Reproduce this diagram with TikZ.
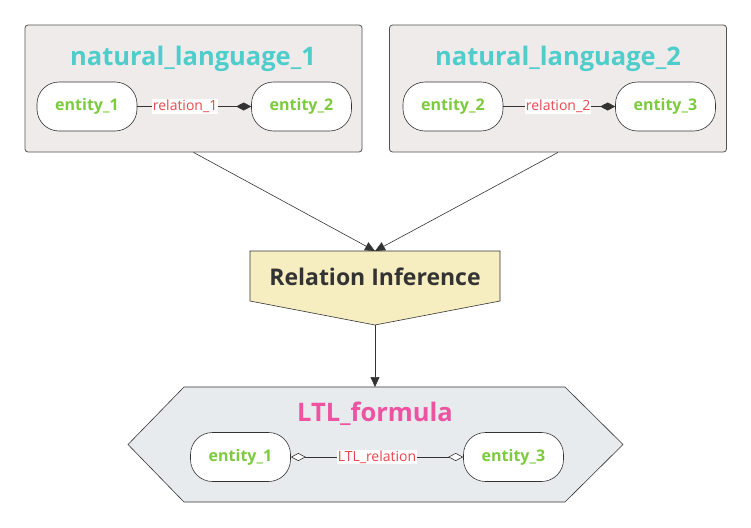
\documentclass[tikz,border=0pt]{standalone}
\usepackage{fontspec}
\setmainfont{Open Sans}
\usepackage{xcolor}
\usetikzlibrary{shapes, positioning, arrows.meta}

\definecolor{lineGrey}{HTML}{333333}
\definecolor{boxFill}{HTML}{EFEBEB}
\definecolor{hexFill}{HTML}{E8EBEE}
\definecolor{inferFill}{HTML}{F6EDC0}
\definecolor{titleTeal}{HTML}{4ECDCB}
\definecolor{titlePink}{HTML}{EC53A0}
\definecolor{entityGreen}{HTML}{7CCB3E}
\definecolor{relRed}{HTML}{E5484D}

\tikzset{
    sentence/.style={draw=lineGrey!85, thick, fill=boxFill, rounded corners=3pt,
        minimum width=337pt, minimum height=127pt},
    title/.style={font=\fontsize{25.5}{30}\selectfont\bfseries},
    entity/.style={draw=lineGrey, semithick, fill=white, rounded corners=22pt,
        minimum width=100pt, minimum height=49pt,
        font=\fontsize{16}{19}\selectfont\bfseries, text=entityGreen},
    relation/.style={fill=white, inner sep=1pt, text=relRed,
        font=\fontsize{14}{17}\selectfont},
    flow/.style={draw=lineGrey, semithick, -{Triangle[length=10pt, width=9pt]}}
}

\begin{document}
\begin{tikzpicture}[x=1pt, y=-1pt]
        \useasboundingbox (0, 0) rectangle (751, 527);

        % the two sentences
        \node[sentence] (nl1) at (193.5, 88.5) {};
        \node[sentence] (nl2) at (558, 88.5) {};
        \node[title, text=titleTeal] (t1) at (193, 59) {natural\_language\_1};
        \node[title, text=titleTeal] (t2) at (558, 59) {natural\_language\_2};

        \node[entity] (a1) at (87, 106.5) {entity\_1};
        \node[entity] (b1) at (301.5, 106.5) {entity\_2};
        \node[entity] (a2) at (453, 106.5) {entity\_2};
        \node[entity] (b2) at (665.5, 106.5) {entity\_3};

        \draw[lineGrey, semithick, -{Diamond[length=15pt, width=8pt]}] (a1) --
            node[relation, pos=.42] {relation\_1} (b1);
        \draw[lineGrey, semithick, -{Diamond[length=15pt, width=8pt]}] (a2) --
            node[relation, pos=.49] {relation\_2} (b2);

        % inference step
        \draw[draw=lineGrey, semithick, fill=inferFill]
            (250, 251) -- (500, 251) -- (500, 301) -- (375, 325)
            -- (250, 301) -- cycle;
        \node[font=\fontsize{23}{27}\selectfont\bfseries, text=lineGrey] (infer)
            at (375, 277) {Relation Inference};
        \coordinate (inferTop) at (375, 251);
        \coordinate (inferTip) at (375, 325);

        % resulting formula
        \draw[draw=lineGrey, semithick, fill=hexFill]
            (184, 387) -- (565, 387) -- (623, 444.5) -- (565, 502)
            -- (184, 502) -- (128, 444.5) -- cycle;
        \coordinate (ltlTop) at (375, 387);
        \node[title, text=titlePink] (t3) at (375, 414) {LTL\_formula};
        \node[entity] (c1) at (240.5, 457) {entity\_1};
        \node[entity] (c3) at (513.5, 457) {entity\_3};

        \draw[lineGrey, semithick, {Diamond[open, fill=white, length=15pt, width=8pt]}-{Diamond[open, fill=white, length=15pt, width=8pt]}]
            (c1) -- node[relation] {LTL\_relation} (c3);

        \draw[flow] (nl1.south) -- (inferTop);
        \draw[flow] (nl2.south) -- (inferTop);
        \draw[flow] (inferTip) -- (ltlTop);
    \end{tikzpicture}
\end{document}
